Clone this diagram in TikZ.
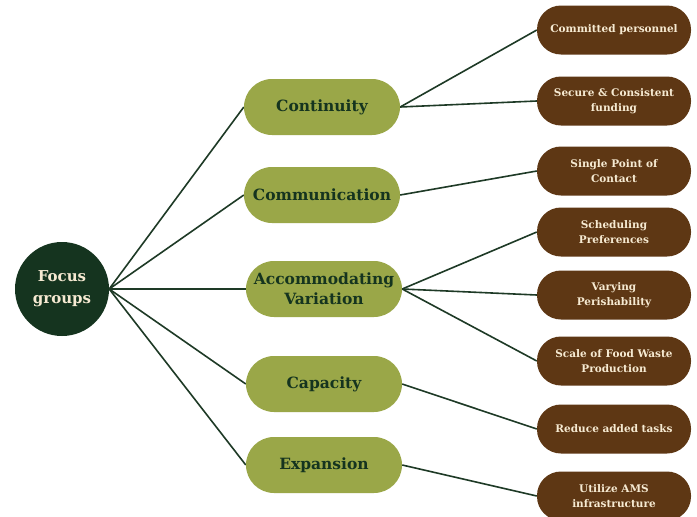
\documentclass[tikz,border=0pt]{standalone}
\usepackage{fontspec}
\setmainfont{DejaVu Serif}
\usetikzlibrary{backgrounds}
\definecolor{hubgreen}{HTML}{15341F}
\definecolor{olive}{HTML}{9AA748}
\definecolor{bark}{HTML}{5E3714}
\definecolor{cream}{HTML}{F6EAD2}
\definecolor{linkgreen}{HTML}{1E3A26}
\tikzset{
  x=1pt, y=-1pt,
  hub/.style={circle, fill=hubgreen, minimum size=94pt, inner sep=0pt,
    text=cream, align=center, font=\bfseries\fontsize{15}{22}\selectfont},
  theme/.style={rectangle, rounded corners=28pt, fill=olive, minimum width=156pt,
    minimum height=56pt, inner sep=0pt, text=hubgreen, align=center,
    font=\bfseries\fontsize{15.5}{20}\selectfont},
  detail/.style={rectangle, rounded corners=24pt, fill=bark, minimum width=154pt,
    minimum height=49pt, inner sep=0pt, text=cream, align=center,
    font=\bfseries\fontsize{10.5}{15}\selectfont},
  link/.style={draw=linkgreen, line width=1.6pt}
}
\begin{document}
\begin{tikzpicture}
\useasboundingbox (0,0) rectangle (697,517);

\node[hub] (focus) at (62,289) {Focus\\groups};

\node[theme] (cont) at (322,107) {Continuity};
\node[theme] (comm) at (322,195) {Communication};
\node[theme] (acc)  at (324,289) {Accommodating\\Variation};
\node[theme] (cap)  at (324,384) {Capacity};
\node[theme] (exp)  at (324,465) {Expansion};

\node[detail] (pers) at (614,30)  {Committed personnel};
\node[detail] (fund) at (614,101) {Secure \& Consistent\\funding};
\node[detail] (spoc) at (614,171) {Single Point of\\Contact};
\node[detail] (sched) at (614,232) {Scheduling\\Preferences};
\node[detail] (peri) at (614,295) {Varying\\Perishability};
\node[detail] (scale) at (614,361) {Scale of Food Waste\\Production};
\node[detail] (red) at (614,429) {Reduce added tasks};
\node[detail] (ams) at (614,496) {Utilize AMS\\infrastructure};

\begin{scope}[on background layer]
  \fill[white] (0,0) rectangle (697,517);
  \foreach \t in {cont,comm,acc,cap,exp}
    \draw[link] (focus.east) -- (\t.west);
  \draw[link] (cont.east) -- (pers.west);
  \draw[link] (cont.east) -- (fund.west);
  \draw[link] (comm.east) -- (spoc.west);
  \draw[link] (acc.east) -- (sched.west);
  \draw[link] (acc.east) -- (peri.west);
  \draw[link] (acc.east) -- (scale.west);
  \draw[link] (cap.east) -- (red.west);
  \draw[link] (exp.east) -- (ams.west);
\end{scope}
\end{tikzpicture}
\end{document}
